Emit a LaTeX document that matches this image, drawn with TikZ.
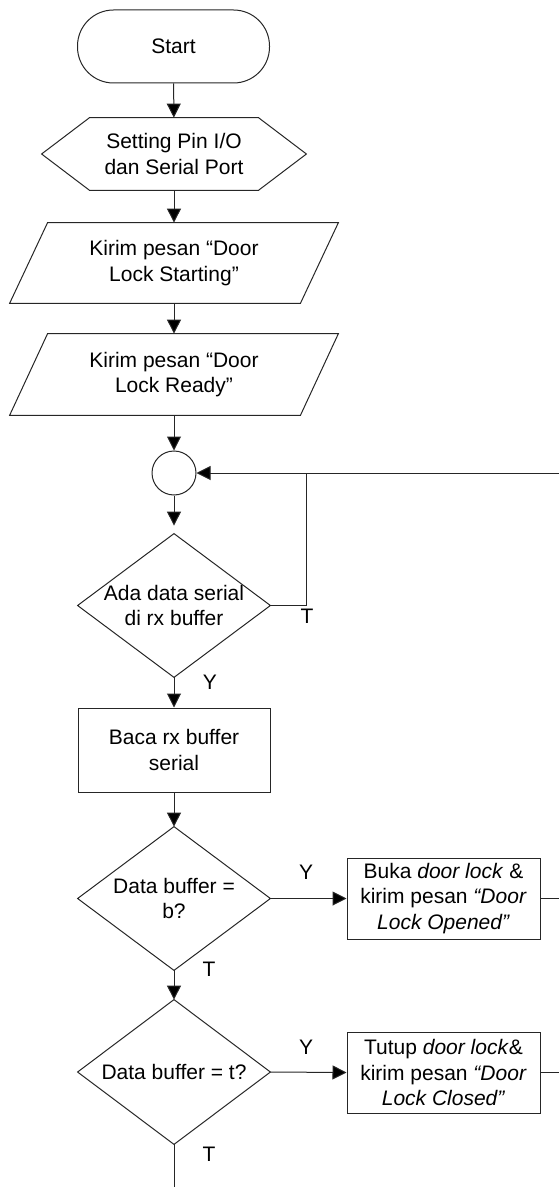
\documentclass[tikz,border=0pt]{standalone}
\usepackage{fontspec}
\setmainfont{Liberation Sans}
\usetikzlibrary{arrows.meta}
\begin{document}
\begin{tikzpicture}[x=0.5pt,y=-0.5pt,
  line/.style={draw=black!85, line width=0.5pt},
  arr/.style={line, -{Triangle[length=7pt,width=7pt]}, >={}, arrows={-{Triangle[length=7pt,width=7pt,fill=black]}}},
  txt/.style={font=\fontsize{10.5}{12.6}\selectfont, align=center, inner sep=0pt},
  shp/.style={txt, draw=black!85, line width=0.5pt},
  lbl/.style={font=\fontsize{10.5}{12.6}\selectfont, inner sep=0pt}]
\useasboundingbox (0,0) rectangle (559,1187);
% nodes
\node[shp, rounded corners=18pt, minimum width=96pt, minimum height=36.5pt] (start) at (173.5,46.5) {Start};
\node[txt, minimum width=132pt, minimum height=36pt] (hex) at (174,154) {Setting Pin I/O\\dan Serial Port};
\draw[line] (hex.west) -- ([xshift=24pt]hex.north west) -- ([xshift=-24pt]hex.north east) -- (hex.east) -- ([xshift=-24pt]hex.south east) -- ([xshift=24pt]hex.south west) -- cycle;
\node[txt, minimum width=164pt, minimum height=40pt] (p1) at (174,263) {Kirim pesan “Door\\Lock Starting”};
\draw[line] (p1.south west) -- ([xshift=19pt]p1.north west) -- (p1.north east) -- ([xshift=-19pt]p1.south east) -- cycle;
\node[txt, minimum width=164pt, minimum height=40.5pt] (p2) at (174,374.5) {Kirim pesan “Door\\Lock Ready”};
\draw[line] (p2.south west) -- ([xshift=19pt]p2.north west) -- (p2.north east) -- ([xshift=-19pt]p2.south east) -- cycle;
\node[line, circle, minimum size=22pt, inner sep=0pt] (c) at (174,473) {};
\node[txt, minimum width=96pt, minimum height=71.5pt] (d1) at (174,605.5) {Ada data serial\\di rx buffer};
\draw[line] (d1.north) -- (d1.east) -- (d1.south) -- (d1.west) -- cycle;
\node[shp, minimum width=96pt, minimum height=42pt] (baca) at (174,750) {Baca rx buffer\\serial};
\node[txt, minimum width=96pt, minimum height=71.5pt] (d2) at (174,898.5) {Data buffer =\\b?};
\draw[line] (d2.north) -- (d2.east) -- (d2.south) -- (d2.west) -- cycle;
\node[shp, minimum width=96.5pt, minimum height=40.5pt] (buka) at (443.5,898.5) {Buka \textit{door lock} \&\\kirim pesan \textit{“Door}\\\textit{Lock Opened”}};
\node[txt, minimum width=96pt, minimum height=72pt] (d3) at (174,1072) {Data buffer = t?};
\draw[line] (d3.north) -- (d3.east) -- (d3.south) -- (d3.west) -- cycle;
\node[shp, minimum width=96.5pt, minimum height=40.5pt] (tutup) at (443.5,1072.5) {Tutup \textit{door lock}\&\\kirim pesan \textit{“Door}\\\textit{Lock Closed”}};
% free ends
\coordinate (j) at (306,473);
\coordinate (rin) at (559,473);
\coordinate (bout) at (559,898.5);
\coordinate (tout) at (559,1072.5);
\coordinate (fin) at (174,1187);
% connectors
\draw[arr] (start) -- (hex);
\draw[arr] (hex) -- (p1);
\draw[arr] (p1) -- (p2);
\draw[arr] (p2) -- (c);
\draw[arr, shorten >=4pt] (c) -- (d1);
\draw[line] (d1.east) -| (j);
\draw[arr] (rin) -- (c.east);
\draw[arr] (d1) -- (baca);
\draw[arr] (baca) -- (d2);
\draw[arr] (d2.east) -- (buka.west);
\draw[line] (buka.east) -- (bout);
\draw[arr] (d2) -- (d3);
\draw[arr] (d3.east) -- (tutup.west);
\draw[line] (tutup.east) -- (tout);
\draw[line] (d3) -- (fin);
% labels
\node[lbl] (t1) at (307,616) {T};
\node[lbl] (y1) at (210,682) {Y};
\node[lbl] (y2) at (306,872) {Y};
\node[lbl] (t2) at (209,969) {T};
\node[lbl] (y3) at (306,1047) {Y};
\node[lbl] (t3) at (209,1154) {T};
\end{tikzpicture}
\end{document}
